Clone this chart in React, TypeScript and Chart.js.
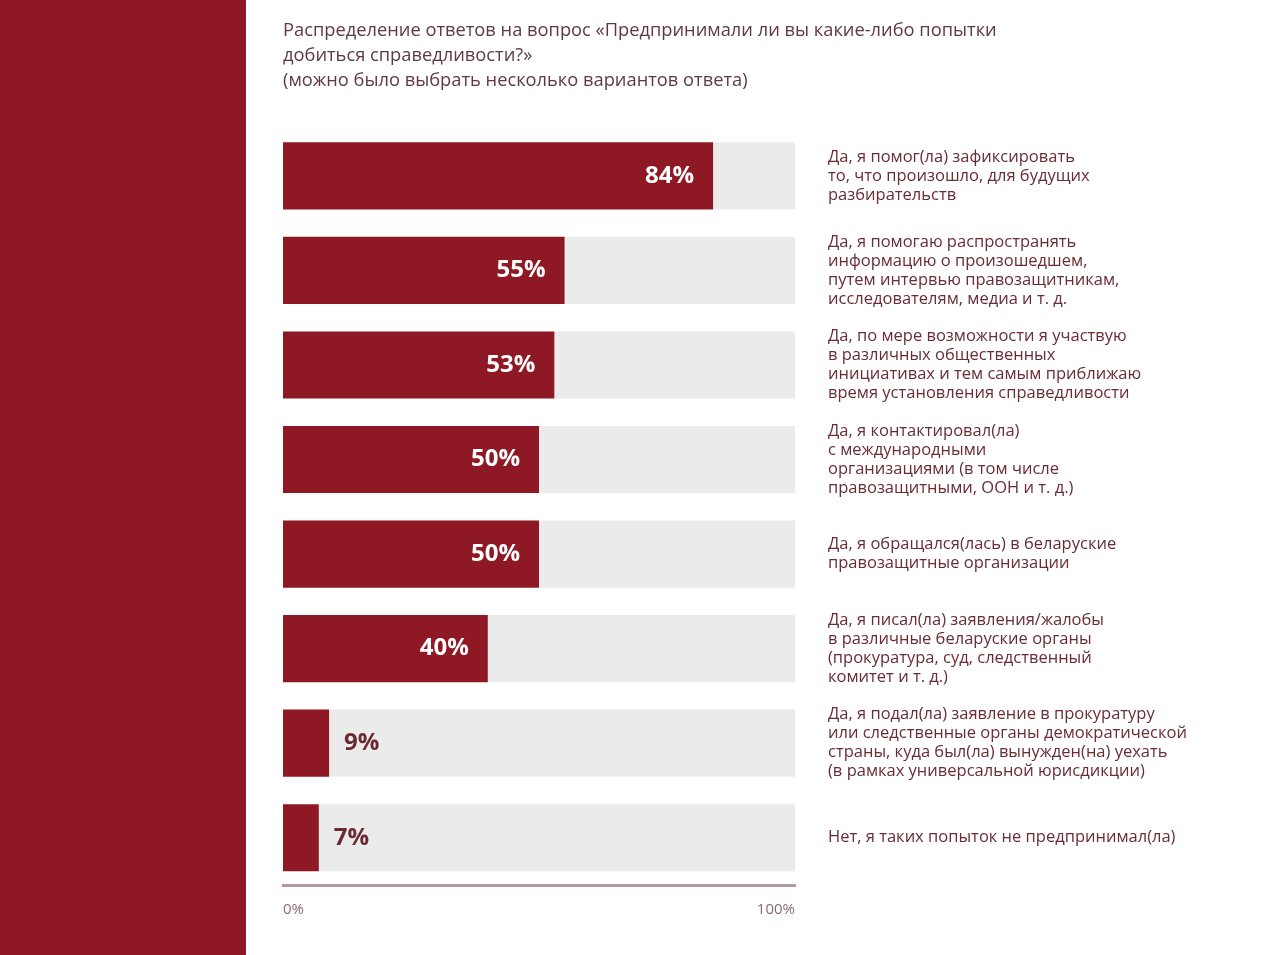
import React, { useEffect, useRef } from "react";
import { Chart, registerables } from "chart.js";

Chart.register(...registerables);

const titleLines = [
  "Распределение ответов на вопрос «Предпринимали ли вы какие-либо попытки",
  "добиться справедливости?»",
  "(можно было выбрать несколько вариантов ответа)",
];

const categories: string[][] = [
  ["Да, я помог(ла) зафиксировать", "то, что произошло, для будущих", "разбирательств"],
  ["Да, я помогаю распространять", "информацию о произошедшем,", "путем интервью правозащитникам,", "исследователям, медиа и т. д."],
  ["Да, по мере возможности я участвую", "в различных общественных", "инициативах и тем самым приближаю", "время установления справедливости"],
  ["Да, я контактировал(ла)", "с международными", "организациями (в том числе", "правозащитными, ООН и т. д.)"],
  ["Да, я обращался(лась) в беларуские", "правозащитные организации"],
  ["Да, я писал(ла) заявления/жалобы", "в различные беларуские органы", "(прокуратура, суд, следственный", "комитет и т. д.)"],
  ["Да, я подал(ла) заявление в прокуратуру", "или следственные органы демократической", "страны, куда был(ла) вынужден(на) уехать", "(в рамках универсальной юрисдикции)"],
  ["Нет, я таких попыток не предпринимал(ла)"],
];

const values = [84, 55, 53, 50, 50, 40, 9, 7];
const remainder = values.map((v) => 100 - v);
const tickLabels: Record<number, string> = { 0: "0%", 100: "100%" };

const RED = "#8e1823";
const GREY = "#ebebeb";
const TEXT = "#6a2c35";
const FONT = "'Open Sans', 'Noto Sans', sans-serif";

const valueLabelPlugin = {
  id: "valueLabels",
  afterDatasetsDraw(chart: any) {
    const meta = chart.getDatasetMeta(0);
    const ctx = chart.ctx;
    ctx.save();
    ctx.font = `bold 24px ${FONT}`;
    ctx.textBaseline = "middle";
    meta.data.forEach((bar: any, i: number) => {
      const v = values[i];
      const text = `${v}%`;
      if (v >= 20) {
        ctx.fillStyle = "#ffffff";
        ctx.textAlign = "right";
        ctx.fillText(text, bar.x - 19, bar.y);
      } else {
        ctx.fillStyle = "#6b2a33";
        ctx.textAlign = "left";
        ctx.fillText(text, bar.x + 15, bar.y);
      }
    });
    ctx.restore();
  },
};

export default function App() {
  const ref = useRef<HTMLCanvasElement | null>(null);

  useEffect(() => {
    document.body.style.margin = "0";
    const canvas = ref.current;
    if (!canvas) return;
    const chart = new Chart(canvas, {
      type: "bar",
      data: {
        labels: categories,
        datasets: [
          {
            data: values,
            backgroundColor: RED,
            barPercentage: 0.71,
            categoryPercentage: 1,
          },
          {
            data: remainder,
            backgroundColor: GREY,
            barPercentage: 0.71,
            categoryPercentage: 1,
          },
        ],
      },
      options: {
        indexAxis: "y",
        animation: false,
        responsive: false,
        maintainAspectRatio: false,
        layout: { padding: { left: 37, right: 0, top: 0, bottom: 0 } },
        plugins: {
          legend: { display: false },
          tooltip: { enabled: false },
          title: {
            display: true,
            text: titleLines,
            align: "start",
            color: "#5e3a40",
            font: { family: FONT, size: 18.3, weight: "normal", lineHeight: 1.34 },
            padding: { top: 19, bottom: 36 },
          },
        },
        scales: {
          x: {
            stacked: true,
            min: 0,
            max: 100,
            grid: { display: false, drawTicks: false },
            border: { display: true, color: "#b59a9d", width: 3 },
            ticks: {
              stepSize: 100,
              align: "inner",
              padding: 16,
              color: "#8a6a6e",
              font: { family: FONT, size: 15 },
              callback: (v: any) => tickLabels[v as number] ?? "",
            },
            afterFit: (scale: any) => {
              scale.height = 70;
            },
          },
          y: {
            stacked: true,
            position: "right",
            grid: { display: false, drawTicks: false },
            border: { display: false },
            ticks: {
              padding: 33,
              color: TEXT,
              crossAlign: "near",
              font: { family: FONT, size: 16.5, weight: 500, lineHeight: 1.15 },
            },
            afterFit: (scale: any) => {
              scale.width = 485;
            },
          },
        },
      },
      plugins: [valueLabelPlugin],
    });
    return () => chart.destroy();
  }, []);

  return (
    <div style={{ position: "absolute", left: 0, top: 0, width: 1280, height: 955, background: "#ffffff" }}>
      <div style={{ position: "absolute", left: 0, top: 0, width: 246, height: 955, background: RED }} />
      <div style={{ position: "absolute", left: 246, top: 0, width: 1034, height: 955 }}>
        <canvas ref={ref} width={1034} height={955} />
      </div>
    </div>
  );
}
